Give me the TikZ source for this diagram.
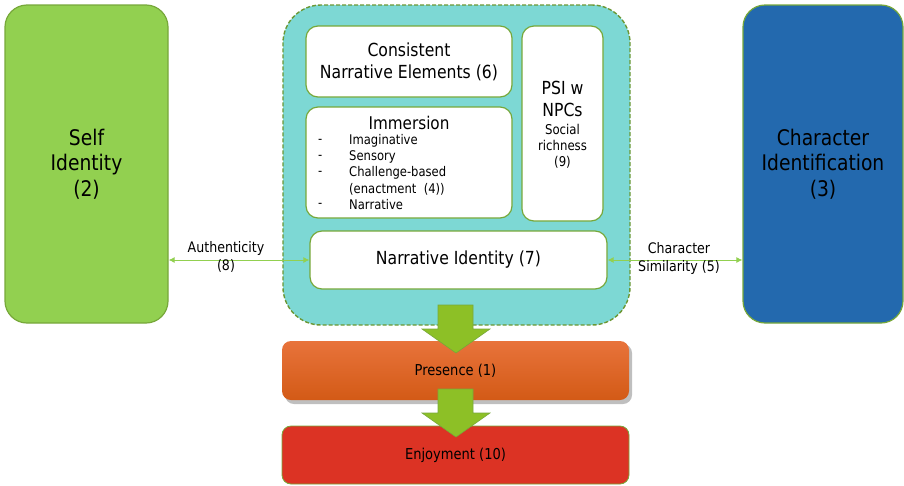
\documentclass[tikz,border=0pt]{standalone}
\usepackage{fontspec}
\setmainfont{DejaVu Sans}[FakeStretch=0.87]
\usetikzlibrary{arrows.meta}
\definecolor{selfgreen}{HTML}{92D050}
\definecolor{edgegreen}{HTML}{77A83A}
\definecolor{charblue}{HTML}{2369AE}
\definecolor{teal}{HTML}{7DD8D4}
\definecolor{arrowgreen}{HTML}{8DC026}
\definecolor{linkgreen}{HTML}{92D050}
\definecolor{orangetop}{HTML}{E8733B}
\definecolor{orangebot}{HTML}{D35A16}
\definecolor{enjred}{HTML}{DC3324}
\tikzset{
  bigbox/.style={draw=edgegreen, line width=1.2pt, rounded corners=22pt, align=center},
  inbox/.style={draw=edgegreen, fill=white, line width=1.2pt, rounded corners=12pt, align=center},
  flowbox/.style={draw=edgegreen, line width=0.8pt, rounded corners=9pt, align=center},
  link/.style={draw=linkgreen, line width=1pt, {Latex[length=6pt,width=6pt]}-{Latex[length=6pt,width=6pt]}},
  lbl/.style={font=\fontsize{14.5}{17.5}\selectfont, align=center, inner sep=0pt},
  bigarrow/.style={fill=arrowgreen, draw=edgegreen, line width=0.6pt},
  item/.style={font=\fontsize{13.3}{16}\selectfont, anchor=west, inner sep=0pt}
}
\begin{document}
\begin{tikzpicture}[x=1pt,y=-1pt]
\useasboundingbox (0,0) rectangle (904,485);
% container
\node[draw=edgegreen!90!black, dash pattern=on 4pt off 2pt, fill=teal, line width=1.4pt, rounded corners=38pt,
      minimum width=347pt, minimum height=320pt] (cont) at (456.5,165) {};
% side boxes
\node[bigbox, fill=selfgreen, minimum width=163pt, minimum height=318pt,
      font=\fontsize{21.5}{25.5}\selectfont] (self) at (86.5,164) {Self\\Identity\\(2)};
\node[bigbox, fill=charblue, minimum width=160pt, minimum height=318pt,
      font=\fontsize{21.5}{25.5}\selectfont] (char) at (823,164) {Character\\Identification\\(3)};
% inner boxes
\node[inbox, minimum width=206pt, minimum height=71pt,
      font=\fontsize{18}{22}\selectfont] (cons) at (409,61.5) {Consistent\\Narrative Elements (6)};
\node[inbox, minimum width=206pt, minimum height=111pt] (imm) at (409,162.5) {};
\node[inbox, minimum width=81pt, minimum height=195pt] (psi) at (562.5,123.5) {};
\node[inbox, minimum width=297pt, minimum height=58pt,
      font=\fontsize{18}{22}\selectfont] (narr) at (458.5,260) {Narrative Identity (7)};
% immersion text
\node[font=\fontsize{17.5}{20}\selectfont, inner sep=0pt] (immt) at (409,123) {Immersion};
\node[item] (d1) at (318,141) {-};
\node[item] (d2) at (318,157) {-};
\node[item] (d3) at (318,173) {-};
\node[item] (d4) at (318,205) {-};
\node[item] (i1) at (349,141) {Imaginative};
\node[item] (i2) at (349,157) {Sensory};
\node[item] (i3) at (349,173) {Challenge-based};
\node[item] (i3b) at (349,189) {(enactment~ (4))};
\node[item] (i4) at (349,205) {Narrative};
% PSI text
\node[font=\fontsize{18}{22}\selectfont, align=center, inner sep=0pt] (psit) at (562.5,99) {PSI w\\NPCs};
\node[font=\fontsize{13.5}{16}\selectfont, align=center, inner sep=0pt] (psis) at (562.5,146) {Social\\richness\\(9)};
% presence / enjoyment
\fill[black!25, rounded corners=9pt] (285,344) rectangle (632,404);
\node[flowbox, draw=none, top color=orangetop, bottom color=orangebot, minimum width=347pt, minimum height=59pt,
      font=\fontsize{15}{18}\selectfont] (pres) at (455.5,370.5) {Presence (1)};
\node[flowbox, fill=enjred, minimum width=347pt, minimum height=58pt,
      font=\fontsize{15}{18}\selectfont] (enj) at (455.5,455) {Enjoyment (10)};
% big arrows
\draw[bigarrow] (438,305) -- (473,305) -- (473,329) -- (490,329) -- (456,353) -- (422,329) -- (438,329) -- cycle;
\draw[bigarrow] (438,389) -- (473,389) -- (473,413) -- (490,413) -- (456,437) -- (422,413) -- (438,413) -- cycle;
% links
\draw[link] (narr.west -| self.east) -- (narr.west);
\draw[link] (narr.east) -- (narr.east -| char.west);
\node[lbl] (auth) at (226,257) {Authenticity\\(8)};
\node[lbl] (sim) at (679,258.5) {Character\\Similarity (5)};
\end{tikzpicture}
\end{document}
